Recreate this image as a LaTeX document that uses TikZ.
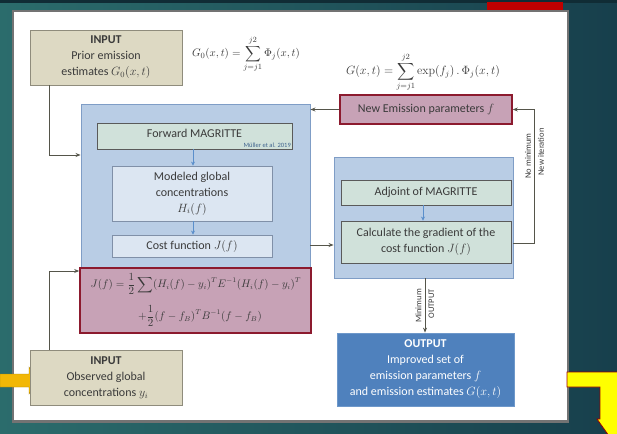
\documentclass[tikz,border=0pt]{standalone}
\usepackage{amsmath}
\usepackage[no-math]{fontspec}
\setmainfont{Carlito}
\usetikzlibrary{arrows.meta}
\definecolor{bgA}{HTML}{2B6C6C}
\definecolor{bgB}{HTML}{173F4C}
\definecolor{tanfill}{HTML}{DDD9C3}
\definecolor{tanline}{HTML}{8F8C7C}
\definecolor{bigblue}{HTML}{B9CDE5}
\definecolor{bigblueline}{HTML}{7F9DC6}
\definecolor{greenfill}{HTML}{D0E1DA}
\definecolor{greenline}{HTML}{5A5A5A}
\definecolor{lightblue}{HTML}{DCE6F2}
\definecolor{lightblueline}{HTML}{8090A8}
\definecolor{mauve}{HTML}{C7A2B6}
\definecolor{darkred}{HTML}{8C1A2E}
\definecolor{outblue}{HTML}{4F81BD}
\definecolor{outline}{HTML}{6E98CA}
\definecolor{conncol}{HTML}{55554A}
\definecolor{txt}{HTML}{3A3A3A}
\definecolor{smallblue}{HTML}{5B8FCB}
\definecolor{yell}{HTML}{FFFF00}
\definecolor{orangey}{HTML}{F2B705}
\begin{document}
\begin{tikzpicture}[x=1pt,y=-1pt,
  every node/.style={inner sep=0pt, text=txt},
  boxtext/.style={font=\fontsize{12}{16}\selectfont, align=center},
  tanbox/.style={draw=tanline, fill=tanfill, line width=0.8pt, boxtext},
  bigbox/.style={draw=bigblueline, fill=bigblue, line width=0.9pt},
  greenbox/.style={draw=greenline, fill=greenfill, line width=0.9pt, boxtext},
  lbbox/.style={draw=lightblueline, fill=lightblue, line width=0.8pt, boxtext},
  redbox/.style={draw=darkred, fill=mauve, line width=1.6pt},
  outbox/.style={draw=outline, fill=outblue, line width=0.8pt, boxtext, text=white},
  conn/.style={draw=conncol, line width=0.8pt, -{Stealth[length=5pt,width=4pt]}},
  smallarr/.style={draw=smallblue, line width=0.9pt, -{Stealth[length=4pt,width=4pt]}},
  rotlab/.style={rotate=90, font=\fontsize{8.5}{9}\selectfont},
  formula/.style={font=\fontsize{10.5}{12}\selectfont}
]
\useasboundingbox (0,0) rectangle (617,433);
% background
\shade[left color=bgA, right color=bgB] (0,0) rectangle (617,433);
\fill[bgB!70!black] (0,0) rectangle (617,3);
\fill[red!75!black] (487,2) rectangle (563,12);
\fill[black!55] (12,10) rectangle (569,423);
\fill[white] (14,12) rectangle (567,420);
% yellow arrows
\filldraw[fill=orangey, draw=orangey!70!black, line width=0.4pt] (0,374) -- (29,374) -- (29,367) -- (38,380.5) -- (29,394) -- (29,387) -- (0,387) -- cycle;
\filldraw[fill=yell, draw=red!60!black, line width=0.8pt] (567,372) -- (620,372) -- (620,436) -- (609,436) -- (597,419) -- (600,419) -- (600,387) -- (567,387) -- cycle;

% formulas
\node (g0) at (246,54) {\fontsize{11}{12}\selectfont $\displaystyle G_0(x,t)=\sum_{j=j1}^{j2}\Phi_j(x,t)$};
\node (gf) at (423,72) {\fontsize{11.5}{12}\selectfont $\displaystyle G(x,t)=\sum_{j=j1}^{j2}\exp(f_j)\,.\,\Phi_j(x,t)$};

% left column
\node[tanbox, minimum width=152pt, minimum height=55pt] (in1) at (106,57.5) {\textbf{INPUT}\\Prior emission\\estimates $G_0(x,t)$};
\node[bigbox, minimum width=229pt, minimum height=164pt] (fwd) at (195.5,186) {};
\node[greenbox, minimum width=195pt, minimum height=26pt] (forward) at (194.5,136) {};
\node[boxtext] (forwardtxt) at (194.5,133) {Forward MAGRITTE};
\node[anchor=south east, font=\fontsize{6.5}{7}\selectfont, text=smallblue!70!black] (muller) at (291,148) {Müller et al. 2019};
\node[lbbox, minimum width=160pt, minimum height=55pt] (modeled) at (192,193.5) {Modeled global\\concentrations\\$H_i(f)$};
\node[lbbox, minimum width=160pt, minimum height=22pt] (cost) at (192,246) {Cost function $J(f)$};
\node[redbox, minimum width=231pt, minimum height=65pt] (jbox) at (195.5,300.5) {};
\node[formula] (jform1) at (196,284) {$\displaystyle J(f)=\frac{1}{2}\sum (H_i(f)-y_i)^T E^{-1}(H_i(f)-y_i)^T$};
\node[formula] (jform2) at (200,316) {$\displaystyle +\frac{1}{2}(f-f_B)^T B^{-1}(f-f_B)$};
\node[tanbox, minimum width=152pt, minimum height=55pt] (in2) at (106,377.5) {\textbf{INPUT}\\Observed global\\concentrations $y_i$};

% right column
\node[redbox, minimum width=172pt, minimum height=29pt, boxtext] (newem) at (426,109.5) {New Emission parameters $f$};
\node[bigbox, minimum width=179pt, minimum height=121pt] (adjout) at (423.5,217.5) {};
\node[greenbox, minimum width=170pt, minimum height=25pt] (adjoint) at (426,192.5) {Adjoint of MAGRITTE};
\node[greenbox, minimum width=170pt, minimum height=42pt] (grad) at (426,242) {Calculate the gradient of the\\cost function $J(f)$};
\node[outbox, minimum width=177pt, minimum height=73pt] (output) at (425.5,369.5) {\textbf{OUTPUT}\\Improved set of\\emission parameters $f$\\and emission estimates $G(x,t)$};

% small blue arrows
\draw[smallarr] (forward.south -| 193,0) -- (modeled.north -| 193,0);
\draw[smallarr] (modeled.south -| 193,0) -- (cost.north -| 193,0);
\draw[smallarr] (adjoint.south -| 423,0) -- (grad.north -| 423,0);

% connectors
\coordinate (c1) at (49,155);
\draw[conn] (in1.south -| c1) -- (c1) -- (fwd.west |- c1);
\coordinate (c2) at (49,271);
\draw[conn] (in2.north -| c2) -- (c2) -- (jbox.west |- c2);
\draw[conn] (newem.west) -- (fwd.east |- newem.west);
\coordinate (c3) at (534,109.5);
\coordinate (c3b) at (534,243);
\draw[conn] (adjout.east |- c3b) -- (c3b) -- (c3) -- (newem.east);
\coordinate (c4) at (320,245);
\draw[conn] (fwd.east |- c4) -- (adjout.west |- c4);
\coordinate (c5) at (425,300);
\draw[conn] (adjout.south -| c5) -- (output.north -| c5);

% rotated labels
\node[rotlab] (nomin) at (528,156) {No minimum};
\node[rotlab] (newit) at (541,152) {New iteration};
\node[rotlab] (minl) at (418.5,306) {Minimum};
\node[rotlab] (outl) at (431.5,304) {OUTPUT};
\end{tikzpicture}
\end{document}
